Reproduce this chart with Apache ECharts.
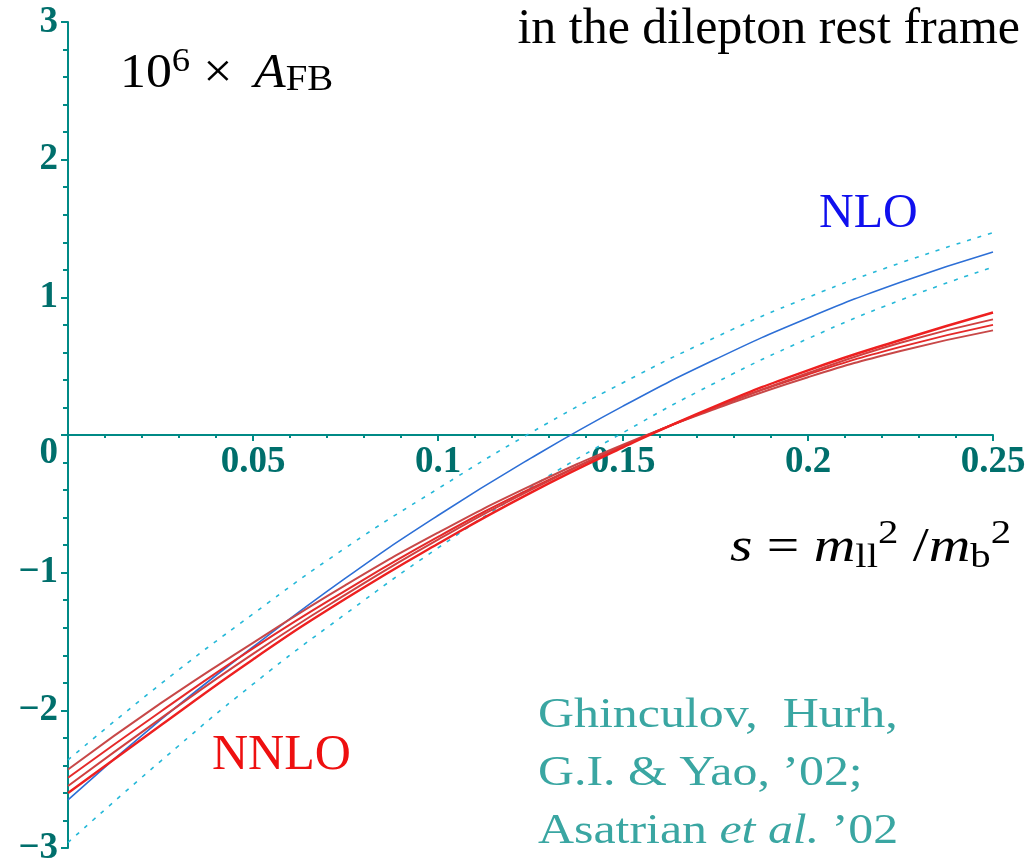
<!DOCTYPE html>
<html>
<head>
<meta charset="utf-8">
<script src="https://cdn.jsdelivr.net/npm/echarts@6/dist/echarts.min.js"></script>
<style>
html,body{margin:0;padding:0;background:#fff}
#main{width:1026px;height:861px}
</style>
</head>
<body>
<div id="main"></div>
<script>
// s values (x axis)
var sValues = [0, 0.025, 0.05, 0.075, 0.1, 0.125, 0.15, 0.175, 0.2, 0.225, 0.25];

// NLO: central and the two scale-variation curves
var nloCentral = [-2.65, -2.07, -1.54, -1.04, -0.585, -0.17, 0.21, 0.55, 0.85, 1.11, 1.33];
var nloUpper   = [-2.36, -1.81, -1.30, -0.82, -0.39, 0.015, 0.38, 0.71, 1.00, 1.25, 1.47];
var nloLower   = [-2.96, -2.37, -1.81, -1.30, -0.82, -0.38, 0.017, 0.38, 0.70, 0.98, 1.22];

// NNLO band
var nnlo1 = [-2.43, -1.95, -1.51, -1.09, -0.71, -0.37, -0.07, 0.19, 0.42, 0.61, 0.76];
var nnlo2 = [-2.49, -2.01, -1.55, -1.13, -0.74, -0.39, -0.08, 0.20, 0.44, 0.64, 0.80];
var nnlo3 = [-2.55, -2.06, -1.59, -1.16, -0.76, -0.40, -0.08, 0.20, 0.45, 0.67, 0.84];
var nnlo4 = [-2.60, -2.11, -1.63, -1.19, -0.79, -0.42, -0.09, 0.21, 0.47, 0.69, 0.89];

var axisColor = '#008a86';
var labelColor = '#006f6c';
var serif = '"Liberation Serif", "DejaVu Serif", serif';

function pairs(ys) {
  var out = [];
  for (var i = 0; i < sValues.length; i++) {
    out.push([sValues[i], ys[i]]);
  }
  return out;
}

function curve(name, ys, color, width, type) {
  return {
    name: name,
    type: 'line',
    data: pairs(ys),
    smooth: true,
    symbol: 'none',
    silent: true,
    lineStyle: { color: color, width: width, type: type || 'solid' }
  };
}

var mychart = echarts.init(document.getElementById('main'));
var options = {
  animation: false,
  backgroundColor: '#fff',
  grid: { left: 68, right: 33, top: 22, bottom: 13, outerBoundsMode: 'none' },
  xAxis: {
    type: 'value',
    min: 0,
    max: 0.25,
    interval: 0.05,
    // put the whole axis (line, ticks, labels) on y = 0
    offset: -413,
    axisLine: { onZero: false, lineStyle: { color: axisColor, width: 2 } },
    axisTick: { show: true, length: 6, lineStyle: { color: axisColor, width: 2 } },
    minorTick: { show: true, splitNumber: 5, length: 3, lineStyle: { color: axisColor, width: 2 } },
    splitLine: { show: false },
    axisLabel: {
      color: labelColor,
      fontFamily: serif,
      fontSize: 37,
      fontWeight: 'bold',
      margin: 9,
      hideOverlap: false,
      formatter: function (v) { return v === 0 ? '' : String(v); }
    }
  },
  yAxis: {
    type: 'value',
    min: -3,
    max: 3,
    interval: 1,
    axisLine: { lineStyle: { color: axisColor, width: 2 } },
    axisTick: { show: true, length: 7, lineStyle: { color: axisColor, width: 2 } },
    minorTick: { show: true, splitNumber: 5, length: 5, lineStyle: { color: axisColor, width: 2 } },
    splitLine: { show: false },
    axisLabel: {
      color: labelColor,
      fontFamily: serif,
      fontSize: 37,
      fontWeight: 'bold',
      margin: 10,
      formatter: function (v) {
        if (v === 0) return '{lo|0}';
        return v < 0 ? '\u2212' + (-v) : String(v);
      },
      rich: {
        lo: { color: labelColor, fontFamily: serif, fontSize: 37, fontWeight: 'bold', padding: [36, 0, 0, 0] }
      }
    }
  },
  series: [
    curve('NLO upper', nloUpper, '#25b8d8', 1.6, [4, 7]),
    curve('NLO lower', nloLower, '#25b8d8', 1.6, [4, 7]),
    curve('NLO', nloCentral, '#2d6fd6', 1.6),
    curve('NNLO 1', nnlo1, '#c84848', 2),
    curve('NNLO 2', nnlo2, '#e52a2a', 2),
    curve('NNLO 3', nnlo3, '#d04040', 2),
    curve('NNLO 4', nnlo4, '#ee2020', 2.4)
  ],
  graphic: [
    {
      type: 'text', x: 120, y: 45, scaleX: 1.08, silent: true,
      style: {
        text: '{n|10}{sup|6}{x|\u00d7}{i|A}{sub|FB}',
        rich: {
          n: { fontFamily: serif, fontSize: 48, fill: '#000' },
          sup: { fontFamily: serif, fontSize: 34, fill: '#000', padding: [0, 0, 24, 0] },
          x: { fontFamily: serif, fontSize: 48, fill: '#000', padding: [0, 20, 0, 12] },
          i: { fontFamily: serif, fontSize: 48, fontStyle: 'italic', fill: '#000' },
          sub: { fontFamily: serif, fontSize: 36, fill: '#000', padding: [14, 0, 0, 0] }
        }
      }
    },
    {
      type: 'text', x: 1020, y: 5, silent: true,
      style: { text: 'in the dilepton rest frame', font: '50px ' + serif, fill: '#000', align: 'right' }
    },
    {
      type: 'text', x: 819, y: 190, silent: true,
      style: { text: 'NLO', font: '48px ' + serif, fill: '#1010ee' }
    },
    {
      type: 'text', x: 212, y: 731, silent: true,
      style: { text: 'NNLO', font: '50px ' + serif, fill: '#ee1010' }
    },
    {
      type: 'text', x: 730, y: 517, scaleX: 1.2, silent: true,
      style: {
        text: '{i|s}{n| = }{i|m}{sub|ll}{sup|2}{n| /}{i|m}{sub|b}{sup|2}',
        rich: {
          n: { fontFamily: serif, fontSize: 48, fill: '#000' },
          i: { fontFamily: serif, fontSize: 48, fontStyle: 'italic', fill: '#000' },
          sub: { fontFamily: serif, fontSize: 34, fill: '#000', padding: [20, 0, 0, 0] },
          sup: { fontFamily: serif, fontSize: 34, fill: '#000', padding: [0, 0, 28, 0] }
        }
      }
    },
    {
      type: 'text', x: 538, y: 687, scaleX: 1.16, silent: true,
      style: {
        text: '{n|Ghinculov,  Hurh,}\n{n|G.I. & Yao, \u201902;}\n{n|Asatrian }{i|et al.}{n| \u201902}',
        rich: {
          n: { fontFamily: serif, fontSize: 43, fill: '#3aa6a2', lineHeight: 58 },
          i: { fontFamily: serif, fontSize: 43, fontStyle: 'italic', fill: '#3aa6a2', lineHeight: 58 }
        }
      }
    }
  ]
};
mychart.setOption(options);
</script>
</body>
</html>
